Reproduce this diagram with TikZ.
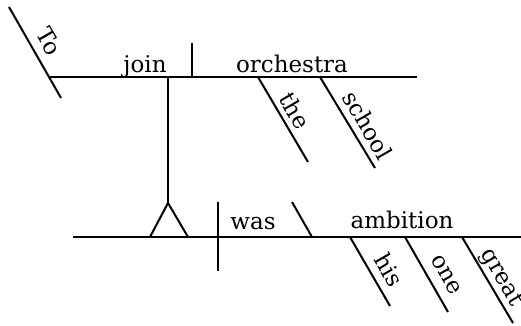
\documentclass[tikz,border=0pt]{standalone}
\usepackage{fontspec}
\setmainfont{DejaVu Serif}
\begin{document}
\begin{tikzpicture}[x=1pt,y=-1pt,
  ln/.style={line width=2pt},
  word/.style={inner sep=0pt,anchor=base,font=\fontsize{23}{27}\selectfont},
  slant/.style={inner sep=0pt,rotate=-60,font=\fontsize{23}{27}\selectfont}]
\useasboundingbox (0,0) rectangle (521,325);
% coordinates
\coordinate (toA) at (9,7);
\coordinate (toB) at (61,98);
\coordinate (Ta) at (50,77);
\coordinate (Tb) at (417,77);
\coordinate (dTa) at (192,43);
\coordinate (dTb) at (192,77);
\coordinate (theA) at (258,77);
\coordinate (theB) at (308,162);
\coordinate (schA) at (320,77);
\coordinate (schB) at (375,168);
\coordinate (stemA) at (168,77);
\coordinate (apex) at (168,203);
\coordinate (triL) at (150,237);
\coordinate (triR) at (188,237);
\coordinate (Ba) at (73,237);
\coordinate (Bb) at (521,237);
\coordinate (dBa) at (218,202);
\coordinate (dBb) at (218,271);
\coordinate (pcA) at (292,202);
\coordinate (pcB) at (312,237);
\coordinate (hisA) at (350,237);
\coordinate (hisB) at (390,306);
\coordinate (oneA) at (405,237);
\coordinate (oneB) at (448,312);
\coordinate (grA) at (462,237);
\coordinate (grB) at (513,323);
% lines
\draw[ln] (toA) -- (toB);
\draw[ln] (Ta) -- (Tb);
\draw[ln] (dTa) -- (dTb);
\draw[ln] (theA) -- (theB);
\draw[ln] (schA) -- (schB);
\draw[ln] (stemA) -- (apex);
\draw[ln,line join=miter] (triL) -- (apex) -- (triR);
\draw[ln] (Ba) -- (Bb);
\draw[ln] (dBa) -- (dBb);
\draw[ln] (pcA) -- (pcB);
\draw[ln] (hisA) -- (hisB);
\draw[ln] (oneA) -- (oneB);
\draw[ln] (grA) -- (grB);
% words
\node[word] (join) at (145,72) {join};
\node[word] (orch) at (292,72) {orchestra};
\node[word] (was) at (253,229) {was};
\node[word] (amb) at (402,228) {ambition};
\node[slant] (to) at (49,41) {To};
\node[slant] (the) at (295,111) {the};
\node[slant] (school) at (368,125) {school};
\node[slant] (his) at (389,270) {his};
\node[slant] (one) at (446,275) {one};
\node[slant] (great) at (501,278) {great};
\end{tikzpicture}
\end{document}
